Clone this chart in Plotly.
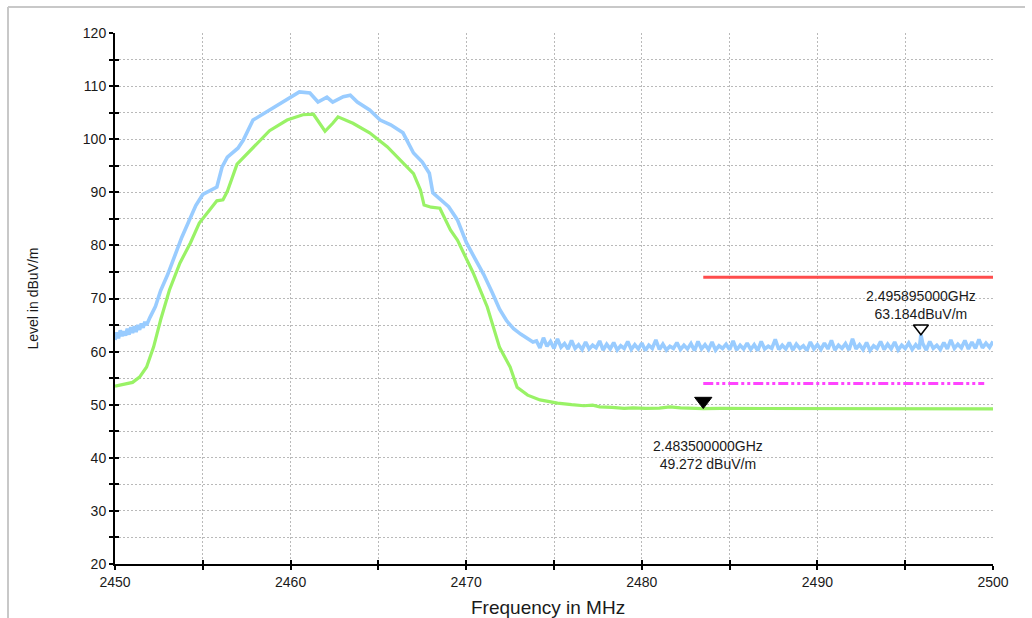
import plotly.graph_objects as go

# ---------------- data ----------------
peak_freq = [
    2450.0, 2450.1, 2450.2, 2450.3, 2450.4, 2450.5, 2450.6, 2450.7, 2450.8, 2450.9,
    2451.0, 2451.1, 2451.2, 2451.3, 2451.4, 2451.5, 2451.6, 2451.7, 2451.8, 2451.9,
    2452.0, 2452.3, 2452.6, 2453.0, 2453.4, 2453.8, 2454.2, 2454.6, 2455.0, 2455.4,
    2455.8, 2456.1, 2456.4, 2457.0, 2457.3, 2457.86, 2458.8, 2459.8, 2460.5, 2461.1,
    2461.56, 2462.07, 2462.4, 2463.0, 2463.4, 2463.8, 2464.5, 2465.1, 2465.7, 2466.4,
    2467.0, 2467.5, 2467.9, 2468.1, 2468.4, 2469.0, 2469.5, 2470.0, 2470.5, 2471.0,
    2471.5, 2471.9, 2472.3, 2472.7, 2473.1, 2473.5, 2473.8,
    2474.0, 2474.2, 2474.4, 2474.6, 2474.8, 2475.0, 2475.2, 2475.4, 2475.6, 2475.8,
    2476.0, 2476.2, 2476.4, 2476.6, 2476.8, 2477.0, 2477.2, 2477.4, 2477.6, 2477.8,
    2478.0, 2478.2, 2478.4, 2478.6, 2478.8, 2479.0, 2479.2, 2479.4, 2479.6, 2479.8,
    2480.0, 2480.2, 2480.4, 2480.6, 2480.8, 2481.0, 2481.2, 2481.4, 2481.6, 2481.8,
    2482.0, 2482.2, 2482.4, 2482.6, 2482.8, 2483.0, 2483.2, 2483.4, 2483.6, 2483.8,
    2484.0, 2484.2, 2484.4, 2484.6, 2484.8, 2485.0, 2485.2, 2485.4, 2485.6, 2485.8,
    2486.0, 2486.2, 2486.4, 2486.6, 2486.8, 2487.0, 2487.2, 2487.4, 2487.6, 2487.8,
    2488.0, 2488.2, 2488.4, 2488.6, 2488.8, 2489.0, 2489.2, 2489.4, 2489.6, 2489.8,
    2490.0, 2490.2, 2490.4, 2490.6, 2490.8, 2491.0, 2491.2, 2491.4, 2491.6, 2491.8,
    2492.0, 2492.2, 2492.4, 2492.6, 2492.8, 2493.0, 2493.2, 2493.4, 2493.6, 2493.8,
    2494.0, 2494.2, 2494.4, 2494.6, 2494.8, 2495.0, 2495.2, 2495.4, 2495.6, 2495.8,
    2495.895,
    2496.0, 2496.2, 2496.4, 2496.6, 2496.8, 2497.0, 2497.2, 2497.4, 2497.6, 2497.8,
    2498.0, 2498.2, 2498.4, 2498.6, 2498.8, 2499.0, 2499.2, 2499.4, 2499.6, 2499.8,
    2500.0,
]
peak_level = [
    62.2, 63.6, 62.5, 64.0, 62.9, 63.8, 63.0, 64.3, 63.2, 64.6,
    63.5, 64.8, 63.7, 65.0, 64.1, 65.3, 64.5, 65.6, 65.0, 66.0,
    66.5, 68.5, 71.5, 74.5, 78.0, 81.5, 84.5, 87.5, 89.6, 90.3,
    91.0, 94.8, 96.6, 98.3, 99.8, 103.6, 105.5, 107.4, 108.9, 108.7,
    107.0, 107.9, 107.0, 108.0, 108.3, 107.0, 105.5, 103.6, 102.7, 101.2,
    97.4, 95.7, 93.6, 89.9, 89.1, 87.3, 84.8, 80.6, 77.5, 74.5,
    71.0, 68.0, 65.8, 64.3, 63.3, 62.5, 61.8,
    62.0, 60.7, 62.6, 61.0, 61.9, 60.6, 62.4, 60.8, 61.5, 60.5,
    62.1, 60.6, 61.3, 60.4, 61.8, 60.5, 61.2, 60.7, 62.0, 60.3,
    61.4, 60.5, 61.7, 60.3, 61.1, 60.6, 61.9, 60.4, 61.3, 60.5,
    61.6, 60.2, 61.2, 60.6, 62.2, 60.4, 61.4, 60.3, 61.0, 60.6,
    61.7, 60.4, 61.2, 60.5, 61.5, 60.2, 61.9, 60.5, 61.3, 60.4,
    61.8, 60.3, 61.1, 60.6, 61.4, 60.4, 62.0, 60.3, 61.2, 60.5,
    61.6, 60.4, 61.3, 60.2, 61.9, 60.5, 61.0, 60.6, 62.3, 60.4,
    61.2, 60.5, 61.7, 60.3, 61.4, 60.6, 61.1, 60.2, 61.8, 60.5,
    61.3, 60.4, 61.6, 60.5, 62.1, 60.3, 61.2, 60.6, 61.5, 60.3,
    62.4, 60.5, 61.3, 60.4, 61.7, 60.2, 61.1, 60.6, 61.9, 60.4,
    61.4, 60.5, 61.8, 60.3, 61.2, 60.6, 61.6, 60.4, 61.3, 60.5,
    63.184,
    61.5, 60.3, 61.9, 60.6, 61.2, 60.4, 61.7, 60.5, 62.2, 60.6,
    61.4, 60.7, 62.1, 60.5, 61.8, 60.6, 62.3, 60.7, 61.6, 60.8,
    61.9,
]

avg_freq = [
    2450.0, 2450.5, 2451.0, 2451.4, 2451.8, 2452.2, 2452.6, 2453.1, 2453.7, 2454.3,
    2454.8, 2455.4, 2455.8, 2456.15, 2456.4, 2456.95, 2457.86, 2458.8, 2459.8, 2460.7,
    2461.3, 2461.67, 2461.96, 2462.4, 2462.7, 2463.55, 2464.5, 2465.5, 2466.4, 2467.0,
    2467.4, 2467.6, 2468.0, 2468.5, 2469.1, 2469.5, 2470.4, 2471.2, 2471.9, 2472.5,
    2472.9, 2473.5, 2474.2, 2475.2, 2476.0, 2476.7, 2477.2, 2477.6, 2478.3, 2479.0,
    2479.5, 2480.2, 2481.0, 2481.6, 2482.2, 2482.8, 2483.5, 2484.5, 2486.0, 2488.0,
    2490.0, 2492.0, 2494.0, 2496.0, 2498.0, 2500.0,
]
avg_level = [
    53.5, 53.9, 54.2, 55.2, 57.1, 60.9, 66.0, 71.6, 76.7, 80.5,
    84.2, 86.7, 88.4, 88.6, 90.2, 95.3, 98.5, 101.6, 103.6, 104.6,
    104.7, 102.9, 101.5, 103.0, 104.2, 103.0, 101.2, 98.6, 95.6, 93.5,
    90.4, 87.6, 87.2, 87.0, 82.9, 81.0, 74.8, 68.4, 60.8, 57.1,
    53.3, 51.8, 50.9, 50.3, 50.0, 49.8, 49.9, 49.6, 49.5, 49.3,
    49.4, 49.3, 49.35, 49.6, 49.4, 49.3, 49.272, 49.3, 49.3, 49.25,
    49.25, 49.25, 49.25, 49.25, 49.25, 49.2,
]

limit_freq = [2483.5, 2500.0]
peak_limit = [74.0, 74.0]
avg_limit_freq = [2483.5, 2499.5]
avg_limit = [54.0, 54.0]

marker_peak = (2495.895, 63.184)
marker_avg = (2483.5, 49.272)
marker_peak_text = ["2.495895000GHz", "63.184dBuV/m"]
marker_avg_text = ["2.483500000GHz", "49.272 dBuV/m"]

x_ticks = [2450, 2455, 2460, 2465, 2470, 2475, 2480, 2485, 2490, 2495, 2500]
x_ticktext = ["2450", "", "2460", "", "2470", "", "2480", "", "2490", "", "2500"]
y_ticks = [20, 25, 30, 35, 40, 45, 50, 55, 60, 65, 70, 75, 80, 85, 90, 95, 100, 105, 110, 115, 120]
y_ticktext = [str(v) if v % 10 == 0 else "" for v in y_ticks]

X_RANGE = [2450, 2500]
Y_RANGE = [20, 120]

# ---------------- figure ----------------
W, H = 1032, 618
ML, MR, MT, MB = 115, 39, 33, 54
plot_h = H - MT - MB
px_per_unit = plot_h / (Y_RANGE[1] - Y_RANGE[0])

FONT = "Liberation Sans, Arial, sans-serif"
BLUE = "#99ccff"
GREEN = "#99f266"

fig = go.Figure()

fig.add_trace(go.Scatter(x=peak_freq, y=peak_level, mode="lines",
                         line=dict(color=BLUE, width=3.6), hoverinfo="skip"))
fig.add_trace(go.Scatter(x=avg_freq, y=avg_level, mode="lines",
                         line=dict(color=GREEN, width=3.2), hoverinfo="skip"))
fig.add_trace(go.Scatter(x=limit_freq, y=peak_limit, mode="lines",
                         line=dict(color="#ff4d4d", width=3), hoverinfo="skip"))
fig.add_trace(go.Scatter(x=avg_limit_freq, y=avg_limit, mode="lines",
                         line=dict(color="#ff44ff", width=3, dash="10px,3px,3px,3px,3px,3px"),
                         hoverinfo="skip"))

# marker triangles (tip sits on the measured value)
s_peak, s_avg = 13, 15
fig.add_trace(go.Scatter(x=[marker_peak[0]], y=[marker_peak[1] + (s_peak / 2) / px_per_unit],
                         mode="markers",
                         marker=dict(symbol="triangle-down-open", size=s_peak,
                                     color="black", line=dict(color="black", width=1.5)),
                         hoverinfo="skip"))
fig.add_trace(go.Scatter(x=[marker_avg[0]], y=[marker_avg[1] + (s_avg / 2) / px_per_unit],
                         mode="markers",
                         marker=dict(symbol="triangle-down", size=s_avg, color="black",
                                     line=dict(color="black", width=1)),
                         hoverinfo="skip"))

# dummy trace for the overlay axes (inside half of the crossing ticks)
fig.add_trace(go.Scatter(x=[None], y=[None], xaxis="x2", yaxis="y2", hoverinfo="skip"))

grid = dict(showgrid=True, gridcolor="#b9b9b9", gridwidth=1, griddash="2px,2px")
axis_common = dict(showline=True, linecolor="black", linewidth=2,
                   ticks="outside", ticklen=4, tickwidth=2, tickcolor="black",
                   zeroline=False,
                   tickfont=dict(family=FONT, size=14, color="#1a1a1a"))

fig.update_layout(
    width=W, height=H,
    margin=dict(l=ML, r=MR, t=MT, b=MB),
    paper_bgcolor="white", plot_bgcolor="white",
    showlegend=False,
    xaxis=dict(range=X_RANGE, tickmode="array", tickvals=x_ticks, ticktext=x_ticktext,
               **grid, **axis_common),
    yaxis=dict(range=Y_RANGE, tickmode="array", tickvals=y_ticks, ticktext=y_ticktext,
               **grid, **axis_common),
    xaxis2=dict(range=X_RANGE, overlaying="x", anchor="y2", showgrid=False, zeroline=False,
                tickmode="array", tickvals=x_ticks, ticks="inside", ticklen=4, tickwidth=2,
                tickcolor="black", showticklabels=False, showline=False),
    yaxis2=dict(range=Y_RANGE, overlaying="y", anchor="x2", showgrid=False, zeroline=False,
                tickmode="array", tickvals=y_ticks, ticks="inside", ticklen=4, tickwidth=2,
                tickcolor="black", showticklabels=False, showline=False),
)

# marker labels
fig.add_annotation(x=marker_peak[0], y=marker_peak[1], xref="x", yref="y",
                   text="<br>".join(marker_peak_text), showarrow=False,
                   xanchor="center", yanchor="bottom", yshift=11,
                   font=dict(family=FONT, size=14, color="#1a1a1a"))
fig.add_annotation(x=marker_avg[0], y=marker_avg[1], xref="x", yref="y",
                   text="<br>".join(marker_avg_text), showarrow=False,
                   xanchor="center", yanchor="top", yshift=-27, xshift=5,
                   font=dict(family=FONT, size=14, color="#1a1a1a"))

# axis titles
fig.add_annotation(x=0.493, y=-0.081, xref="paper", yref="paper",
                   text="Frequency in MHz", showarrow=False,
                   xanchor="center", yanchor="middle",
                   font=dict(family=FONT, size=19, color="#1a1a1a"))
fig.add_annotation(x=-0.0934, y=0.5, xref="paper", yref="paper",
                   text="Level in dBuV/m", showarrow=False, textangle=-90,
                   xanchor="center", yanchor="middle",
                   font=dict(family=FONT, size=14, color="#1a1a1a"))

# light grey page frame (left and top edges)
pw = W - ML - MR
fig.add_shape(type="line", xref="paper", yref="paper",
              x0=(8 - ML) / pw, x1=(8 - ML) / pw, y0=(H - MB - 7) / plot_h, y1=-MB / plot_h - 0.01,
              line=dict(color="#c8c8c8", width=2))
fig.add_shape(type="line", xref="paper", yref="paper",
              x0=(8 - ML) / pw, x1=(1025 - ML) / pw, y0=(H - MB - 7) / plot_h, y1=(H - MB - 7) / plot_h,
              line=dict(color="#c8c8c8", width=2))

fig.write_html("out.html")
